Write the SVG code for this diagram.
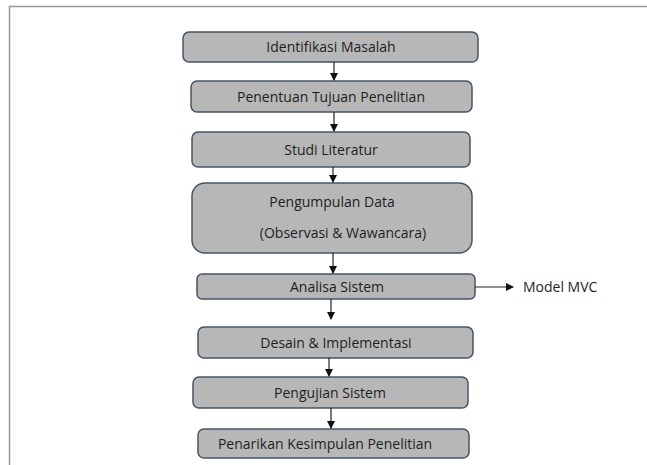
<svg xmlns="http://www.w3.org/2000/svg" width="647" height="465" viewBox="0 0 647 465">
<style>
.box{fill:#b7b7b7;stroke:#465566;stroke-width:1.5}
.t{font-family:"Open Sans","Liberation Sans",Arial,sans-serif;font-size:14px;fill:#1e1e1e;text-anchor:middle}
.c{stroke:#222;stroke-width:1.2;fill:none}
</style>
<defs>
<marker id="ah" markerWidth="8" markerHeight="8" refX="7" refY="4" orient="auto" markerUnits="userSpaceOnUse">
<path d="M0,0 L8,4 L0,8 Z" fill="#111"/>
</marker>
</defs>
<rect width="647" height="465" fill="#fff"/>
<path d="M9.5,465 V6.5 H647" fill="none" stroke="#999" stroke-width="1.5"/>
<g id="n1"><rect class="box" x="183" y="32" width="295" height="30" rx="6"/><text class="t" x="331" y="52">Identifikasi Masalah</text></g>
<g id="n2"><rect class="box" x="191" y="81" width="281" height="31" rx="6"/><text class="t" x="331" y="101.5">Penentuan Tujuan Penelitian</text></g>
<g id="n3"><rect class="box" x="192" y="132" width="278" height="35" rx="6"/><text class="t" x="331" y="154.5">Studi Literatur</text></g>
<g id="n4"><rect class="box" x="192" y="183" width="280" height="70" rx="13"/><text class="t" x="332" y="207">Pengumpulan Data</text><text class="t" x="343" y="238">(Observasi &amp; Wawancara)</text></g>
<g id="n5"><rect class="box" x="197" y="274" width="278" height="25" rx="5"/><text class="t" x="337" y="292">Analisa Sistem</text></g>
<g id="n6"><rect class="box" x="198" y="327" width="275" height="31" rx="6"/><text class="t" x="336" y="347.5">Desain &amp; Implementasi</text></g>
<g id="n7"><rect class="box" x="193" y="377" width="275" height="31" rx="6"/><text class="t" x="330" y="397.5">Pengujian Sistem</text></g>
<g id="n8"><rect class="box" x="198" y="429" width="271" height="29" rx="6"/><text class="t" x="325" y="448.5">Penarikan Kesimpulan Penelitian</text></g>
<g id="n9"><text class="t" x="523" y="291.5" style="text-anchor:start">Model MVC</text></g>
<g id="connectors">
<line class="c" x1="334" y1="62" x2="334" y2="80" marker-end="url(#ah)"/>
<line class="c" x1="334" y1="112" x2="334" y2="131" marker-end="url(#ah)"/>
<line class="c" x1="333" y1="167" x2="333" y2="182" marker-end="url(#ah)"/>
<line class="c" x1="333" y1="253" x2="333" y2="273" marker-end="url(#ah)"/>
<line class="c" x1="331" y1="299" x2="331" y2="319" marker-end="url(#ah)"/>
<line class="c" x1="329" y1="358" x2="329" y2="376" marker-end="url(#ah)"/>
<line class="c" x1="331" y1="408" x2="331" y2="428" marker-end="url(#ah)"/>
<line class="c" x1="475" y1="287" x2="513" y2="287" marker-end="url(#ah)"/>
</g>
</svg>
